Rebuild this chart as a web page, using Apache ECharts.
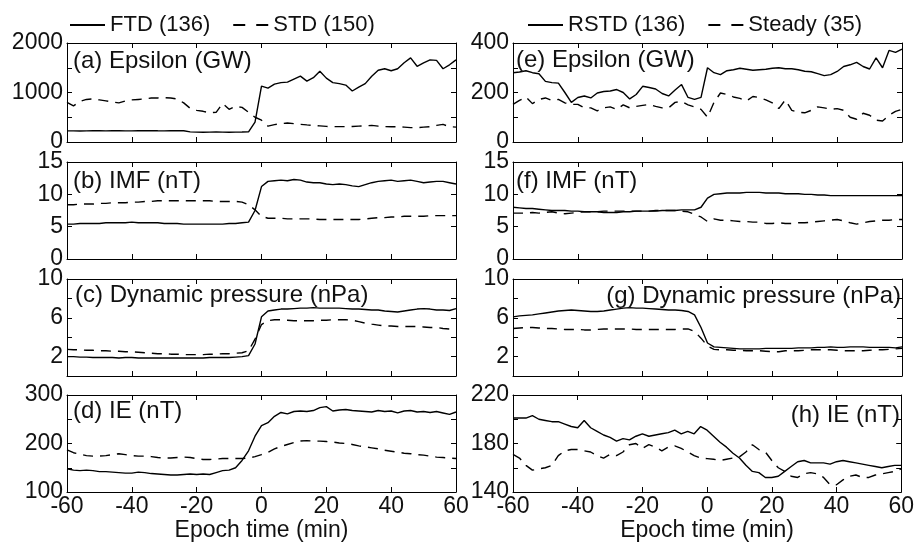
<!DOCTYPE html>
<html>
<head>
<meta charset="utf-8">
<script src="https://cdn.jsdelivr.net/npm/echarts@6/dist/echarts.min.js"></script>
<style>
  html, body { margin: 0; padding: 0; background: #fff; }
  #main { width: 917px; height: 545px; }
</style>
</head>
<body>
<div id="main"></div>
<script>
// epoch time, minutes
var epochTime = [-60,-58,-56,-54,-52,-50,-48,-46,-44,-42,-40,-38,-36,-34,-32,-30,-28,-26,-24,-22,-20,-18,-16,-14,-12,-10,-8,-6,-4,-2,
  0,2,4,6,8,10,12,14,16,18,20,22,24,26,28,30,32,34,36,38,40,42,44,46,48,50,52,54,56,58,60];

// (a) Epsilon (GW)
var ftdEpsilon = [225,225,222,225,228,226,224,226,228,225,224,226,228,230,226,225,228,230,226,205,200,198,200,202,200,198,200,202,205,400,
  1130,1090,1170,1200,1210,1270,1330,1230,1300,1430,1290,1200,1180,1150,1030,1110,1180,1330,1450,1480,1440,1480,1600,1700,1530,1600,1660,1650,1480,1560,1660];
var stdEpsilon = [800,730,820,860,870,850,830,810,790,830,850,860,870,890,890,895,890,870,790,680,640,620,590,600,780,660,720,700,600,500,
  440,320,350,370,385,370,356,345,335,325,315,310,310,310,312,320,325,335,320,310,308,308,300,290,290,300,310,335,355,310,300];
// (b) IMF (nT)
var ftdImf = [5.4,5.4,5.5,5.5,5.5,5.5,5.6,5.6,5.6,5.6,5.7,5.6,5.6,5.6,5.6,5.5,5.5,5.5,5.4,5.4,5.4,5.4,5.4,5.4,5.4,5.5,5.5,5.6,5.7,7.5,
  11.2,12.0,12.1,12.2,12.1,12.3,12.2,11.9,11.8,11.8,11.6,11.5,11.6,11.5,11.3,11.2,11.5,11.8,12.0,12.1,12.2,12.0,12.1,12.2,12.0,11.8,11.9,12.0,12.0,11.8,11.6];
var stdImf = [8.4,8.4,8.5,8.5,8.5,8.6,8.6,8.7,8.7,8.7,8.8,8.8,8.9,8.9,9.0,9.0,9.0,9.0,9.0,9.0,9.0,9.0,9.0,8.9,8.9,8.9,8.9,8.8,8.4,7.6,
  6.6,6.3,6.3,6.3,6.2,6.2,6.2,6.2,6.2,6.1,6.1,6.1,6.1,6.1,6.1,6.1,6.2,6.3,6.4,6.4,6.5,6.5,6.6,6.6,6.6,6.6,6.7,6.7,6.7,6.7,6.7];
// (c) Dynamic pressure (nPa)
var ftdPdyn = [2.0,2.0,1.95,1.95,1.9,1.9,1.9,1.9,1.85,1.9,1.9,1.85,1.85,1.85,1.85,1.85,1.85,1.85,1.85,1.85,1.85,1.85,1.9,1.9,1.9,1.9,1.95,2.0,2.1,3.3,
  6.1,6.7,6.8,6.9,6.9,6.95,7.0,7.0,7.05,7.0,7.0,7.0,7.0,6.95,6.9,6.9,6.85,6.8,6.8,6.7,6.65,6.6,6.7,6.8,6.9,6.95,6.9,6.8,6.8,6.75,6.95];
var stdPdyn = [2.75,2.7,2.7,2.65,2.65,2.6,2.6,2.55,2.55,2.5,2.5,2.45,2.4,2.35,2.3,2.3,2.25,2.25,2.2,2.2,2.2,2.2,2.25,2.25,2.3,2.3,2.35,2.4,2.6,3.8,
  5.3,5.7,5.8,5.8,5.75,5.7,5.7,5.7,5.7,5.75,5.75,5.8,5.8,5.8,5.75,5.6,5.45,5.35,5.25,5.15,5.15,5.1,5.1,5.1,5.1,5.05,5.0,5.0,4.9,4.85,4.8];
// (d) IE (nT)
var ftdIe = [148,145,144,145,144,142,142,141,140,139,139,141,140,138,137,136,135,135,136,137,136,137,136,140,144,145,150,165,185,215,
  237,243,256,264,261,266,267,266,268,274,276,267,269,270,268,267,266,265,268,266,267,263,267,268,265,266,264,266,263,260,265];
var stdIe = [187,181,178,175,174,174,175,177,179,177,175,174,174,173,171,170,170,171,172,171,169,167,167,168,169,169,169,169,170,173,
  177,182,189,194,198,202,205,206,205,205,204,203,201,200,198,195,193,191,189,186,184,182,180,179,177,176,174,172,171,170,169];
// (e) Epsilon (GW)
var rstdEpsilon = [280,283,288,280,276,245,240,238,200,160,180,186,178,198,204,206,212,200,174,192,225,220,214,196,186,210,232,180,172,180,
  300,280,272,288,292,298,294,290,292,294,298,300,296,296,292,286,284,276,268,272,285,305,312,322,305,295,340,300,370,362,375];
var steadyEpsilon = [152,168,182,155,172,178,168,172,158,152,152,138,138,126,138,142,132,150,138,144,148,152,144,138,138,160,164,150,142,132,
  100,160,198,192,182,176,166,184,180,170,158,135,170,128,120,118,128,142,138,132,135,128,100,92,116,108,88,85,108,124,132];
// (f) IMF (nT)
var rstdImf = [8.0,7.9,7.8,7.8,7.7,7.6,7.5,7.5,7.5,7.4,7.4,7.3,7.3,7.3,7.2,7.2,7.2,7.3,7.3,7.4,7.4,7.4,7.4,7.5,7.5,7.5,7.6,7.6,7.6,8.0,
  9.4,10.0,10.1,10.2,10.2,10.2,10.3,10.3,10.3,10.2,10.2,10.2,10.1,10.1,10.1,10.0,10.0,9.9,9.9,9.8,9.8,9.8,9.8,9.8,9.8,9.8,9.8,9.8,9.8,9.8,9.8];
var steadyImf = [7.1,7.1,7.1,7.2,7.1,7.2,7.3,7.1,7.0,7.1,7.2,7.3,7.3,7.3,7.4,7.4,7.4,7.4,7.4,7.4,7.4,7.4,7.5,7.5,7.5,7.5,7.4,7.3,6.9,6.5,
  5.8,6.2,6.0,6.0,5.9,5.8,5.8,5.7,5.7,5.5,5.5,5.6,5.5,5.5,5.6,5.6,5.7,5.8,5.9,6.0,6.1,5.9,5.6,5.4,5.6,5.8,5.9,6.0,6.0,6.1,6.1];
// (g) Dynamic pressure (nPa)
var rstdPdyn = [6.1,6.2,6.25,6.3,6.4,6.5,6.6,6.7,6.75,6.8,6.75,6.7,6.65,6.65,6.7,6.8,6.9,7.0,7.05,7.0,7.0,6.95,6.9,6.85,6.8,6.8,6.75,6.65,6.3,5.0,
  3.4,3.0,2.95,2.9,2.85,2.8,2.8,2.8,2.8,2.85,2.85,2.85,2.85,2.85,2.9,2.9,2.9,2.95,2.95,3.0,2.95,2.95,3.0,3.0,3.0,2.95,2.95,2.95,2.95,2.9,3.0];
var steadyPdyn = [4.9,4.95,5.0,5.0,4.95,4.9,4.9,4.85,4.8,4.8,4.8,4.75,4.75,4.8,4.85,4.85,4.85,4.85,4.85,4.8,4.8,4.8,4.8,4.8,4.8,4.8,4.85,4.85,4.6,3.9,
  3.1,2.75,2.7,2.7,2.65,2.65,2.6,2.6,2.6,2.55,2.5,2.5,2.6,2.6,2.6,2.65,2.7,2.7,2.7,2.7,2.65,2.6,2.6,2.6,2.6,2.65,2.7,2.7,2.75,2.8,2.85];
// (h) IE (nT)
var rstdIe = [201,201,201,203,200,199,198,198,196,194,193,199,193,190,187,185,182,184,183,186,188,186,187,188,189,191,188,190,188,194,
  191,186,181,177,172,168,162,157,156,152,152,153,157,161,165,166,164,164,164,163,165,166,165,164,163,162,161,160,161,162,162];
var steadyIe = [171,168,162,158,159,160,162,170,174,175,175,174,173,170,168,171,170,173,179,180,176,179,177,174,177,178,176,173,170,168,
  167.5,167,166,167,168,169,173,179,175,173,166,160,157,153,152,155,156,155,152,146,146,150,153,154,152,152,154,155,156,157,159];

// tick labels shown on each y axis
var epsLabelsLeft = [0, 1000, 2000];
var epsLabelsRight = [0, 200, 400];
var imfLabels = [0, 5, 10, 15];
var pdynLabels = [2, 6, 10];
var ieLabelsLeft = [100, 200, 300];
var ieLabelsRight = [140, 180, 220];
var timeTicks = [-60, -40, -20, 0, 20, 40, 60];

var leftNames = ['FTD (136)', 'STD (150)'];
var rightNames = ['RSTD (136)', 'Steady (35)'];

var FONT = '"Liberation Sans", Arial, sans-serif';
var INK = '#111';

// 每个小图的位置、刻度
var panels = [
  {left: 67, top: 43, h: 99, min: 0, max: 2000, step: 500, labels: epsLabelsLeft, text: '(a) Epsilon (GW)', tx: 73, ty: 61, align: 'left', solid: ftdEpsilon, dashed: stdEpsilon, names: leftNames},
  {left: 67, top: 162, h: 97, min: 0, max: 15, step: 5, labels: imfLabels, text: '(b) IMF (nT)', tx: 73, ty: 181, align: 'left', solid: ftdImf, dashed: stdImf, names: leftNames},
  {left: 67, top: 279, h: 97, min: 0, max: 10, step: 2, labels: pdynLabels, text: '(c) Dynamic pressure (nPa)', tx: 75, ty: 295, align: 'left', solid: ftdPdyn, dashed: stdPdyn, names: leftNames},
  {left: 67, top: 395, h: 97, min: 100, max: 300, step: 50, labels: ieLabelsLeft, text: '(d) IE (nT)', tx: 73, ty: 411, align: 'left', solid: ftdIe, dashed: stdIe, names: leftNames, bottom: true},
  {left: 513, top: 43, h: 99, min: 0, max: 400, step: 100, labels: epsLabelsRight, text: '(e) Epsilon (GW)', tx: 516, ty: 60, align: 'left', solid: rstdEpsilon, dashed: steadyEpsilon, names: rightNames},
  {left: 513, top: 162, h: 97, min: 0, max: 15, step: 5, labels: imfLabels, text: '(f) IMF (nT)', tx: 516, ty: 181, align: 'left', solid: rstdImf, dashed: steadyImf, names: rightNames},
  {left: 513, top: 279, h: 97, min: 0, max: 10, step: 2, labels: pdynLabels, text: '(g) Dynamic pressure (nPa)', tx: 901, ty: 296, align: 'right', solid: rstdPdyn, dashed: steadyPdyn, names: rightNames},
  {left: 513, top: 395, h: 97, min: 140, max: 220, step: 20, labels: ieLabelsRight, text: '(h) IE (nT)', tx: 900, ty: 415, align: 'right', solid: rstdIe, dashed: steadyIe, names: rightNames, bottom: true}
];

function pairs(xs, ys) {
  return xs.map(function (x, i) { return [x, ys[i]]; });
}

var grids = [], xAxes = [], yAxes = [], series = [], texts = [];

panels.forEach(function (p, i) {
  grids.push({left: p.left, top: p.top, width: 389, height: p.h});

  var frame = {show: true, onZero: false, lineStyle: {color: '#000', width: 1}};
  var ticks = {show: true, inside: true, length: 5, lineStyle: {color: '#000', width: 1}};

  // 下边 x 轴
  xAxes.push({
    gridIndex: i, type: 'value', position: 'bottom',
    min: timeTicks[0], max: timeTicks[timeTicks.length - 1], interval: 20,
    axisLine: frame, axisTick: ticks, splitLine: {show: false},
    axisLabel: {show: !!p.bottom, color: INK, fontSize: 23, fontFamily: FONT, margin: 3},
    name: p.bottom ? 'Epoch time (min)' : '',
    nameLocation: 'middle', nameGap: 24,
    nameTextStyle: {color: INK, fontSize: 23, fontFamily: FONT}
  });
  // 上边框
  xAxes.push({
    gridIndex: i, type: 'value', position: 'top',
    min: -60, max: 60, interval: 20,
    axisLine: frame, axisTick: ticks, splitLine: {show: false},
    axisLabel: {show: false}
  });
  // 左 y 轴
  yAxes.push({
    gridIndex: i, type: 'value', position: 'left',
    min: p.min, max: p.max, interval: p.step,
    axisLine: frame, axisTick: ticks, splitLine: {show: false},
    axisLabel: {
      color: INK, fontSize: 23, fontFamily: FONT, margin: 4,
      formatter: function (v) { return p.labels.indexOf(v) >= 0 ? String(v) : ''; }
    }
  });
  // 右边框
  yAxes.push({
    gridIndex: i, type: 'value', position: 'right',
    min: p.min, max: p.max, interval: p.step,
    axisLine: frame, axisTick: ticks, splitLine: {show: false},
    axisLabel: {show: false}
  });

  series.push({
    type: 'line', name: p.names[0], xAxisIndex: 2 * i, yAxisIndex: 2 * i,
    data: pairs(epochTime, p.solid), symbol: 'none', showSymbol: false,
    lineStyle: {color: '#000', width: 1.4}, itemStyle: {color: '#000'}, z: 3
  });
  series.push({
    type: 'line', name: p.names[1], xAxisIndex: 2 * i, yAxisIndex: 2 * i,
    data: pairs(epochTime, p.dashed), symbol: 'none', showSymbol: false,
    lineStyle: {color: '#000', width: 1.4, type: [10, 7]}, itemStyle: {color: '#000'}, z: 2
  });

  texts.push({
    type: 'text', x: p.tx, y: p.ty, z: 10,
    style: {text: p.text, fill: INK, fontSize: 24, fontFamily: FONT, align: p.align, verticalAlign: 'middle'}
  });
});

// 图例：只要线，不要圆点
var legendBase = {
  top: 9, itemWidth: 35, itemHeight: 14, itemGap: 22, selectedMode: false,
  itemStyle: {color: 'rgba(0,0,0,0)', borderColor: 'rgba(0,0,0,0)', borderWidth: 0},
  textStyle: {color: INK, fontSize: 22, fontFamily: FONT}
};

function legendData(names) {
  return [
    {name: names[0]},
    {name: names[1], lineStyle: {type: [12, 11]}}
  ];
}

var option = {
  animation: false,
  backgroundColor: '#fff',
  grid: grids,
  xAxis: xAxes,
  yAxis: yAxes,
  legend: [
    Object.assign({}, legendBase, {left: 64, data: legendData(leftNames)}),
    Object.assign({}, legendBase, {left: 522, data: legendData(rightNames)})
  ],
  graphic: texts,
  series: series
};

var myechart = echarts.init(document.getElementById('main'), null, {renderer: 'canvas'});
myechart.setOption(option);
</script>
</body>
</html>
